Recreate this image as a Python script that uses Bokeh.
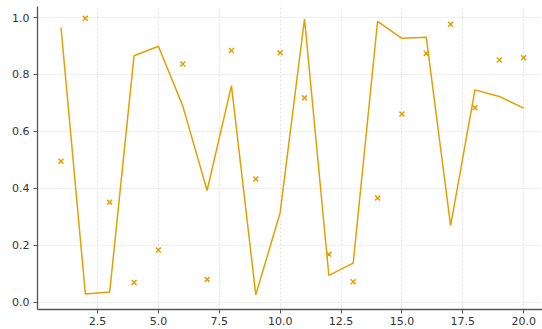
from bokeh.plotting import figure
from bokeh.models import Range1d, FixedTicker
from bokeh.embed import file_html
from bokeh.resources import INLINE

# series data
x_values = list(range(1, 21))
line_values = [0.965, 0.03, 0.037, 0.866, 0.899, 0.69, 0.393, 0.761, 0.027, 0.315,
               0.995, 0.095, 0.138, 0.986, 0.927, 0.931, 0.27, 0.746, 0.723, 0.682]
scatter_values = [0.496, 0.997, 0.352, 0.07, 0.184, 0.837, 0.081, 0.884, 0.433, 0.876,
                  0.718, 0.169, 0.073, 0.367, 0.661, 0.874, 0.976, 0.683, 0.851, 0.859]
x_ticks = [2.5, 5.0, 7.5, 10.0, 12.5, 15.0, 17.5, 20.0]
y_ticks = [0.0, 0.2, 0.4, 0.6, 0.8, 1.0]

ORANGE = "#E69F00"
AXIS = "#555555"
TEXT = "#333333"

p = figure(width=542, height=329, output_backend="svg", toolbar_location=None,
           x_range=Range1d(0.035, 20.774), y_range=Range1d(-0.0246, 1.0386),
           min_border_left=37, min_border_right=0, min_border_top=6, min_border_bottom=20)
p.outline_line_color = None
p.background_fill_color = "white"
p.border_fill_color = "white"

p.line(x_values, line_values, line_color=ORANGE, line_width=1.5)
p.scatter(x_values, scatter_values, marker="x", size=7, line_color=ORANGE, line_width=1.5)

for ax, ticks in ((p.xaxis, x_ticks), (p.yaxis, y_ticks)):
    ax.ticker = FixedTicker(ticks=ticks)
    ax.axis_line_color = AXIS
    ax.axis_line_width = 1.3
    ax.major_tick_line_color = AXIS
    ax.major_tick_out = 4
    ax.major_tick_in = 0
    ax.minor_tick_line_color = None
    ax.major_label_text_font = "DejaVu Sans"
    ax.major_label_text_font_size = "11px"
    ax.major_label_text_color = TEXT
p.xaxis.major_label_standoff = 3
p.yaxis.major_label_standoff = 4
p.xaxis.major_label_overrides = {t: f"{t:.1f}" for t in x_ticks}
p.yaxis.major_label_overrides = {t: f"{t:.1f}" for t in y_ticks}

for g in (p.xgrid, p.ygrid):
    g.grid_line_color = "#d9d9d9"
    g.grid_line_dash = "2 2"
    g.grid_line_width = 0.8

open("out.html", "w").write(file_html(p, INLINE))
